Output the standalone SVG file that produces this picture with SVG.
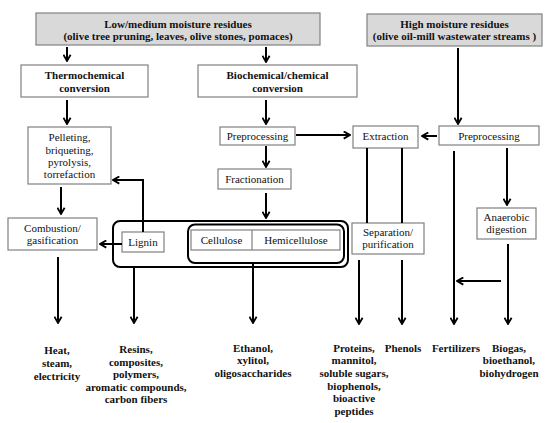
<svg xmlns="http://www.w3.org/2000/svg" width="550" height="423" viewBox="0 0 550 423" font-family="'Liberation Serif', Tinos, 'Times New Roman', 'DejaVu Serif', serif">
<style>
text{font-family:"Liberation Serif",Tinos,"Times New Roman","DejaVu Serif",serif;font-size:11px;fill:#111;text-anchor:middle}
.b{font-weight:bold}
.box{fill:#fff;stroke:#808080;stroke-width:1.2}
.gbox{fill:#d9d9d9;stroke:#808080;stroke-width:1.2}
.ln{fill:none;stroke:#000;stroke-width:2}
.ar{fill:none;stroke:#000;stroke-width:2;marker-end:url(#ah)}
.rr{fill:none;stroke:#000;stroke-width:2}
</style>
<defs>
<marker id="ah" viewBox="0 0 10 10" refX="8.5" refY="5" markerWidth="9" markerHeight="9" markerUnits="userSpaceOnUse" orient="auto">
<path d="M1.5,1 L8.5,5 L1.5,9" fill="none" stroke="#000" stroke-width="2"/>
</marker>
</defs>
<rect width="550" height="423" fill="#fff"/>
<g id="low">
<rect class="gbox" x="36" y="13" width="284" height="32"/>
<text class="b" x="178" y="28">Low/medium moisture residues</text>
<text class="b" x="178" y="40">(olive tree pruning, leaves, olive stones, pomaces)</text>
</g>
<g id="high">
<rect class="gbox" x="367" y="14" width="175" height="32"/>
<text class="b" x="454.5" y="28">High moisture residues</text>
<text class="b" x="454.5" y="40">(olive oil-mill wastewater streams )</text>
</g>
<g id="thermo">
<rect class="box" x="21" y="65" width="127" height="32"/>
<text class="b" x="84.5" y="79">Thermochemical</text>
<text class="b" x="84.5" y="92">conversion</text>
</g>
<g id="bio">
<rect class="box" x="198" y="65" width="159" height="32"/>
<text class="b" x="277.5" y="79">Biochemical/chemical</text>
<text class="b" x="277.5" y="92">conversion</text>
</g>
<g id="pellet">
<rect class="box" x="28" y="127" width="83" height="57"/>
<text x="69.5" y="141">Pelleting,</text>
<text x="69.5" y="154">briqueting,</text>
<text x="69.5" y="166">pyrolysis,</text>
<text x="69.5" y="178">torrefaction</text>
</g>
<g id="prepL">
<rect class="box" x="220" y="127" width="75" height="18"/>
<text x="257.5" y="140">Preprocessing</text>
</g>
<g id="extraction">
<rect class="box" x="353" y="126" width="65" height="22"/>
<text x="385.5" y="140">Extraction</text>
</g>
<g id="prepR">
<rect class="box" x="439" y="126" width="100" height="19"/>
<text x="489" y="140">Preprocessing</text>
</g>
<g id="fraction">
<rect class="box" x="218" y="169" width="73" height="20"/>
<text x="254.5" y="183">Fractionation</text>
</g>
<g id="combustion">
<rect class="box" x="8" y="218" width="89" height="32"/>
<text x="52.5" y="232">Combustion/</text>
<text x="52.5" y="244">gasification</text>
</g>
<g id="fractions">
<rect class="rr" x="113" y="221" width="235" height="46" rx="7"/>
<rect class="rr" x="188" y="224.5" width="156" height="38.5" rx="7"/>
</g>
<g id="lignin">
<rect class="box" x="122" y="232" width="42" height="20"/>
<text x="143" y="246">Lignin</text>
</g>
<g id="cellulose">
<rect class="box" x="191" y="230" width="149" height="20"/>
<line x1="252" y1="230" x2="252" y2="250" stroke="#808080" stroke-width="1.2"/>
<text x="221.5" y="244">Cellulose</text>
<text x="296" y="244">Hemicellulose</text>
</g>
<g id="separation">
<rect class="box" x="352" y="223" width="72" height="31"/>
<text x="388" y="236">Separation/</text>
<text x="388" y="248">purification</text>
</g>
<g id="anaerobic">
<rect class="box" x="477" y="208" width="59" height="31"/>
<text x="506.5" y="221">Anaerobic</text>
<text x="506.5" y="233">digestion</text>
</g>
<g id="out-heat">
<text class="b" x="57" y="354">Heat,</text>
<text class="b" x="57" y="367">steam,</text>
<text class="b" x="57" y="380">electricity</text>
</g>
<g id="out-resins">
<text class="b" x="136" y="353">Resins,</text>
<text class="b" x="136" y="366">composites,</text>
<text class="b" x="136" y="378">polymers,</text>
<text class="b" x="136" y="391">aromatic compounds,</text>
<text class="b" x="136" y="403">carbon fibers</text>
</g>
<g id="out-ethanol">
<text class="b" x="253" y="352">Ethanol,</text>
<text class="b" x="253" y="364">xylitol,</text>
<text class="b" x="253" y="377">oligosaccharides</text>
</g>
<g id="out-proteins">
<text class="b" x="354" y="352">Proteins,</text>
<text class="b" x="354" y="364">mannitol,</text>
<text class="b" x="354" y="377">soluble sugars,</text>
<text class="b" x="354" y="390">biophenols,</text>
<text class="b" x="354" y="402">bioactive</text>
<text class="b" x="354" y="415">peptides</text>
</g>
<g id="out-phenols"><text class="b" x="403" y="352">Phenols</text></g>
<g id="out-fert"><text class="b" x="456" y="352">Fertilizers</text></g>
<g id="out-biogas">
<text class="b" x="509" y="352">Biogas,</text>
<text class="b" x="509" y="364">bioethanol,</text>
<text class="b" x="509" y="377">biohydrogen</text>
</g>
<g id="connectors">
<line class="ar" x1="67" y1="47" x2="67" y2="61"/>
<line class="ar" x1="266" y1="47" x2="266" y2="62"/>
<line class="ar" x1="458" y1="48" x2="458" y2="124"/>
<line class="ar" x1="67" y1="100" x2="67" y2="124"/>
<line class="ar" x1="266" y1="100" x2="266" y2="124"/>
<line class="ar" x1="296" y1="135" x2="350" y2="135"/>
<line class="ar" x1="437" y1="136" x2="422" y2="136"/>
<line class="ar" x1="266" y1="146" x2="266" y2="167"/>
<line class="ar" x1="266" y1="193" x2="266" y2="218"/>
<line class="ar" x1="61" y1="187" x2="61" y2="214"/>
<polyline class="ar" points="143,232 143,180 113,180"/>
<line class="ar" x1="122" y1="244" x2="100" y2="244"/>
<line class="ln" x1="367" y1="148" x2="367" y2="223"/>
<line class="ln" x1="402" y1="148" x2="402" y2="223"/>
<line class="ar" x1="507" y1="148" x2="507" y2="205"/>
<line class="ar" x1="58" y1="257" x2="58" y2="323"/>
<line class="ar" x1="134" y1="267" x2="134" y2="323"/>
<line class="ar" x1="253" y1="263" x2="253" y2="323"/>
<line class="ar" x1="359" y1="260" x2="359" y2="324"/>
<line class="ar" x1="402" y1="260" x2="402" y2="324"/>
<line class="ar" x1="454" y1="151" x2="454" y2="324"/>
<line class="ar" x1="508" y1="244" x2="508" y2="324"/>
<line class="ar" x1="501" y1="281" x2="457" y2="281"/>
</g>
</svg>
